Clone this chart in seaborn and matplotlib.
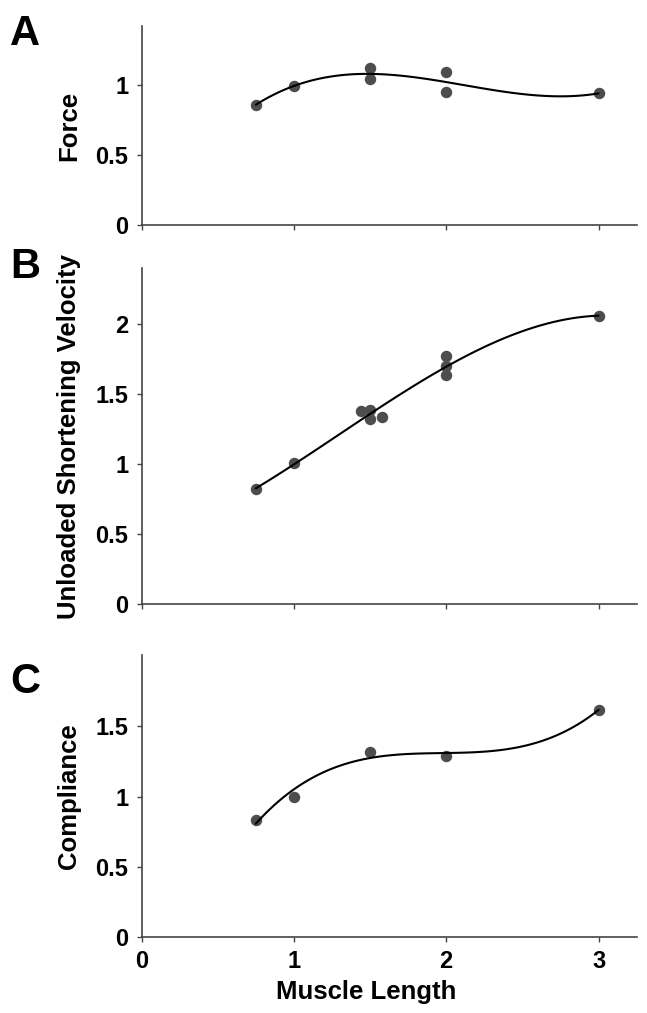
import matplotlib
matplotlib.use("Agg")
import matplotlib.pyplot as plt
import seaborn as sns
import pandas as pd

# =========================
# Data
# =========================
force_x = [0.75, 1.0, 1.5, 1.5, 2.0, 2.0, 3.0]
force_y = [0.86, 0.99, 1.12, 1.04, 1.09, 0.95, 0.94]

velocity_x = [0.75, 1.0, 1.44, 1.5, 1.5, 1.58, 2.0, 2.0, 2.0, 3.0]
velocity_y = [0.82, 1.005, 1.38, 1.39, 1.32, 1.34, 1.77, 1.70, 1.64, 2.06]

compliance_x = [0.75, 1.0, 1.5, 2.0, 3.0]
compliance_y = [0.83, 1.00, 1.32, 1.29, 1.62]

panels = [
    ("A", "Force", force_x, force_y, 1.42, [0, 0.5, 1]),
    ("B", "Unloaded Shortening Velocity", velocity_x, velocity_y, 2.4, [0, 0.5, 1, 1.5, 2]),
    ("C", "Compliance", compliance_x, compliance_y, 2.01, [0, 0.5, 1, 1.5]),
]
x_ticks = [0, 1, 2, 3]

# =========================
# Style
# =========================
sns.set_theme(style="ticks")
plt.rcParams["font.family"] = ["Liberation Sans", "DejaVu Sans"]
plt.rcParams["font.weight"] = "bold"
plt.rcParams["text.color"] = "black"
plt.rcParams["axes.labelcolor"] = "black"

W, H = 647, 1013
fig = plt.figure(figsize=(W / 100, H / 100), dpi=100)

# axes boxes in pixels: (left, top, right, bottom)
px_boxes = [(141.5, 26, 636.7, 225.3), (141.5, 268.3, 636.7, 604), (141.5, 655, 636.7, 936.6)]
letter_baseline = [45, 278, 693]

for i, (letter, ylabel, xs, ys, ymax, yticks) in enumerate(panels):
    l, t, r, b = px_boxes[i]
    ax = fig.add_axes([l / W, 1 - b / H, (r - l) / W, (b - t) / H])
    df = pd.DataFrame({"x": xs, "y": ys})
    sns.regplot(
        data=df, x="x", y="y", order=3, ci=None, truncate=True, ax=ax,
        scatter_kws={"s": 68, "color": "#4d4d4d", "alpha": 1, "linewidths": 0},
        line_kws={"color": "black", "lw": 1.5},
    )
    ax.set_xlim(0, 3.25)
    ax.set_ylim(0, ymax)
    ax.set_xticks(x_ticks)
    ax.set_yticks(yticks)
    ax.set_yticklabels([f"{v:g}" for v in yticks], fontsize=17, fontweight="bold")
    if i == 2:
        ax.set_xticklabels([str(v) for v in x_ticks], fontsize=17, fontweight="bold")
        ax.set_xlabel("Muscle Length", fontsize=18.5, fontweight="bold", color="black")
        ax.xaxis.set_label_coords(0.453, -0.155)
    else:
        ax.set_xticklabels([])
        ax.set_xlabel("")
    ax.set_ylabel(ylabel, fontsize=18.5, fontweight="bold", labelpad=10, color="black")
    ax.tick_params(axis="y", length=3.6, pad=6, width=1, color="#444444", labelcolor="black")
    ax.tick_params(axis="x", length=3.6, pad=6, width=1, color="#444444", labelcolor="black")
    for s in ["top", "right"]:
        ax.spines[s].set_visible(False)
    for s in ["left", "bottom"]:
        ax.spines[s].set_color("#444444")
        ax.spines[s].set_linewidth(1.2)
    fig.text(10 / W, 1 - letter_baseline[i] / H, letter, color="black",
             fontsize=30, fontweight="bold", va="baseline", ha="left")

fig.savefig("out.png", dpi=100)
plt.close(fig)
